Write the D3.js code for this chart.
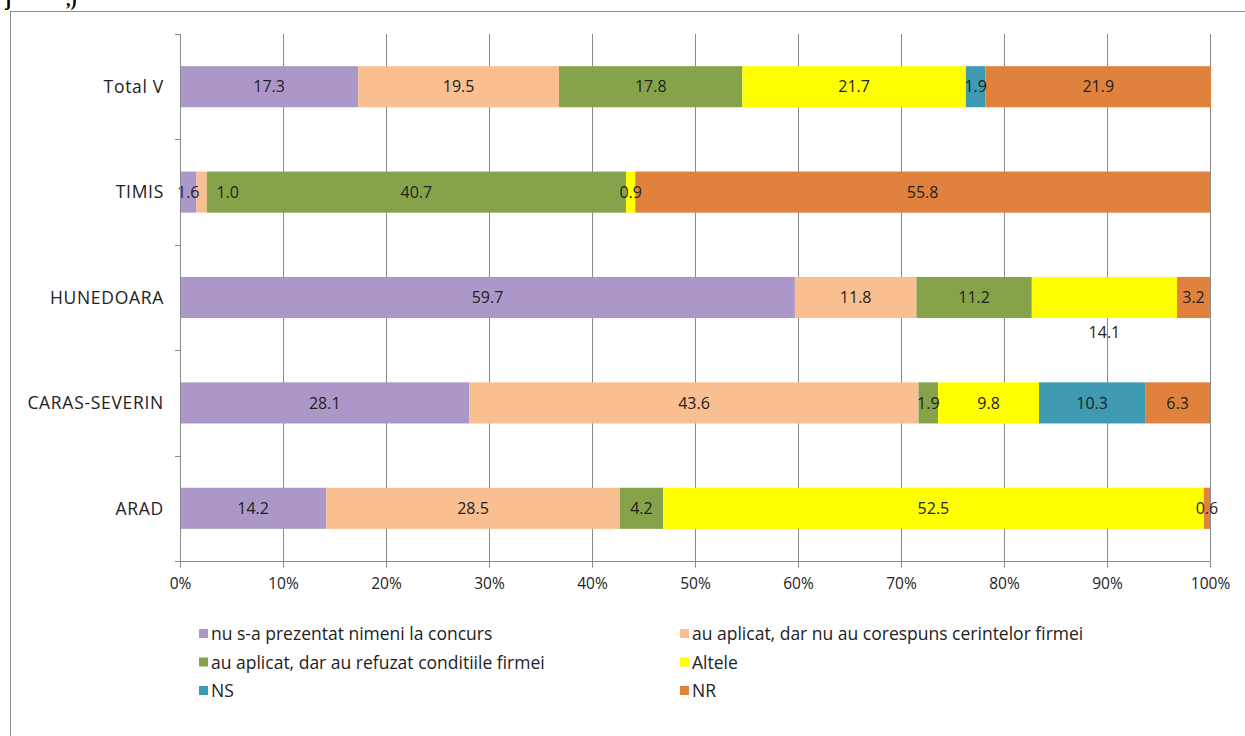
<!DOCTYPE html>
<html>
<head>
<meta charset="utf-8">
<script src="https://cdn.jsdelivr.net/npm/d3@7"></script>
<style>
body{margin:0;background:#fff;font-family:"Open Sans",sans-serif;}
svg{display:block;}
</style>
</head>
<body>
<svg id="chart" width="1245" height="736"></svg>
<script>
// categories, top to bottom
var regions = ['Total V', 'TIMIS', 'HUNEDOARA', 'CARAS-SEVERIN', 'ARAD']
var seriesNames = ['nu s-a prezentat nimeni la concurs', 'au aplicat, dar nu au corespuns cerintelor firmei',
  'au aplicat, dar au refuzat conditiile firmei', 'Altele', 'NS', 'NR']
var seriesColors = ['#ab98c8', '#f9bf90', '#86a34a', '#ffff00', '#3f9bb2', '#e0823d']
// values per series, same order as regions
var nuPrezentat = [17.3, 1.6, 59.7, 28.1, 14.2]
var nuCorespuns = [19.5, 1.0, 11.8, 43.6, 28.5]
var refuzat = [17.8, 40.7, 11.2, 1.9, 4.2]
var altele = [21.7, 0.9, 14.1, 9.8, 52.5]
var ns = [1.9, 0, 0, 10.3, 0]
var nr = [21.9, 55.8, 3.2, 6.3, 0.6]
var tickValues = [0, 10, 20, 30, 40, 50, 60, 70, 80, 90, 100]

var svg = d3.select('#chart')
var seriesVals = [nuPrezentat, nuCorespuns, refuzat, altele, ns, nr]
var rows = regions.map(function(r, i){
  var o = {region: r}
  seriesNames.forEach(function(s, k){ o[s] = seriesVals[k][i] })
  return o
})
var stacked = d3.stack().keys(seriesNames)(rows)

// clipped text from the page above
svg.append('text').attr('x', 5).attr('y', 6).attr('font-family', 'Liberation Serif').attr('font-weight', 'bold').attr('font-size', 18).text('j')
svg.append('text').attr('x', 66).attr('y', 6).attr('font-family', 'Liberation Serif').attr('font-weight', 'bold').attr('font-size', 18).text(',)')

// outer frame
svg.append('rect').attr('x', 10.5).attr('y', 11.5).attr('width', 1250).attr('height', 740)
  .attr('fill', 'none').attr('stroke', '#8c8c8c')

var x = d3.scaleLinear().domain([0, 100]).range([180, 1210])
var y = d3.scaleBand().domain(regions).range([34, 561]).paddingInner(0.61).paddingOuter(0.305)

// gridlines
svg.append('g').selectAll('line').data(tickValues.slice(1)).join('line')
  .attr('x1', function(d){ return Math.round(x(d)) + 0.5 }).attr('x2', function(d){ return Math.round(x(d)) + 0.5 })
  .attr('y1', 34).attr('y2', 561).attr('stroke', '#8a8a8a').attr('stroke-width', 1)

// bars
var g = svg.append('g')
stacked.forEach(function(layer, k){
  g.append('g').attr('fill', seriesColors[k]).selectAll('rect').data(layer).join('rect')
    .attr('x', function(d){ return x(d[0]) })
    .attr('width', function(d){ return x(d[1]) - x(d[0]) })
    .attr('y', function(d){ return y(d.data.region) })
    .attr('height', y.bandwidth())
})

// data labels
var lab = svg.append('g').attr('font-size', 16).attr('fill', '#222').attr('text-anchor', 'middle')
stacked.forEach(function(layer, k){
  layer.forEach(function(d){
    var v = d[1] - d[0]
    if (v <= 0) return
    var cx = x((d[0] + d[1]) / 2), cy = y(d.data.region) + y.bandwidth() / 2
    if (d.data.region == 'TIMIS' && k == 1) cx += 26
    if (d.data.region == 'HUNEDOARA' && k == 3) cy += 35
    lab.append('text').attr('x', cx).attr('y', cy).attr('dy', '0.36em').text(d3.format('.1f')(v))
  })
})

// axes
var xAxis = d3.axisBottom(x).tickValues(tickValues).tickSize(6).tickFormat(function(d){ return d + '%' })
var ax = svg.append('g').attr('transform', 'translate(0,561.5)').call(xAxis)
ax.select('.domain').attr('d', 'M175,0H1210').attr('stroke', '#8a8a8a')
ax.selectAll('.tick line').attr('stroke', '#8a8a8a')
ax.selectAll('.tick text').attr('font-family', '"Open Sans",sans-serif').attr('font-size', 15.5).attr('fill', '#222').attr('dy', '1.2em')

var yAxis = svg.append('g')
yAxis.append('line').attr('x1', 180.5).attr('x2', 180.5).attr('y1', 34).attr('y2', 561).attr('stroke', '#8a8a8a')
var bounds = d3.range(regions.length + 1).map(function(i){ return 34 + i * (561 - 34) / regions.length })
yAxis.selectAll('line.t').data(bounds).join('line').attr('class', 't')
  .attr('x1', 175).attr('x2', 180).attr('y1', function(d){ return Math.round(d) + 0.5 }).attr('y2', function(d){ return Math.round(d) + 0.5 })
  .attr('stroke', '#8a8a8a')
yAxis.selectAll('text').data(regions).join('text')
  .attr('x', 164).attr('y', function(d){ return y(d) + y.bandwidth() / 2 }).attr('dy', '0.36em')
  .attr('text-anchor', 'end').attr('font-size', 17.5).attr('letter-spacing', 0.7).attr('fill', '#222').text(function(d){ return d })

// legend
var leg = svg.append('g').attr('font-size', 17.5).attr('fill', '#222')
seriesNames.forEach(function(s, k){
  var lx = k % 2 == 0 ? 199 : 680, ly = 634 + Math.floor(k / 2) * 28.5
  leg.append('rect').attr('x', lx).attr('y', ly - 5).attr('width', 9).attr('height', 9).attr('fill', seriesColors[k])
  leg.append('text').attr('x', lx + 12).attr('y', ly).attr('dy', '0.36em').text(s)
})
</script>
</body>
</html>
